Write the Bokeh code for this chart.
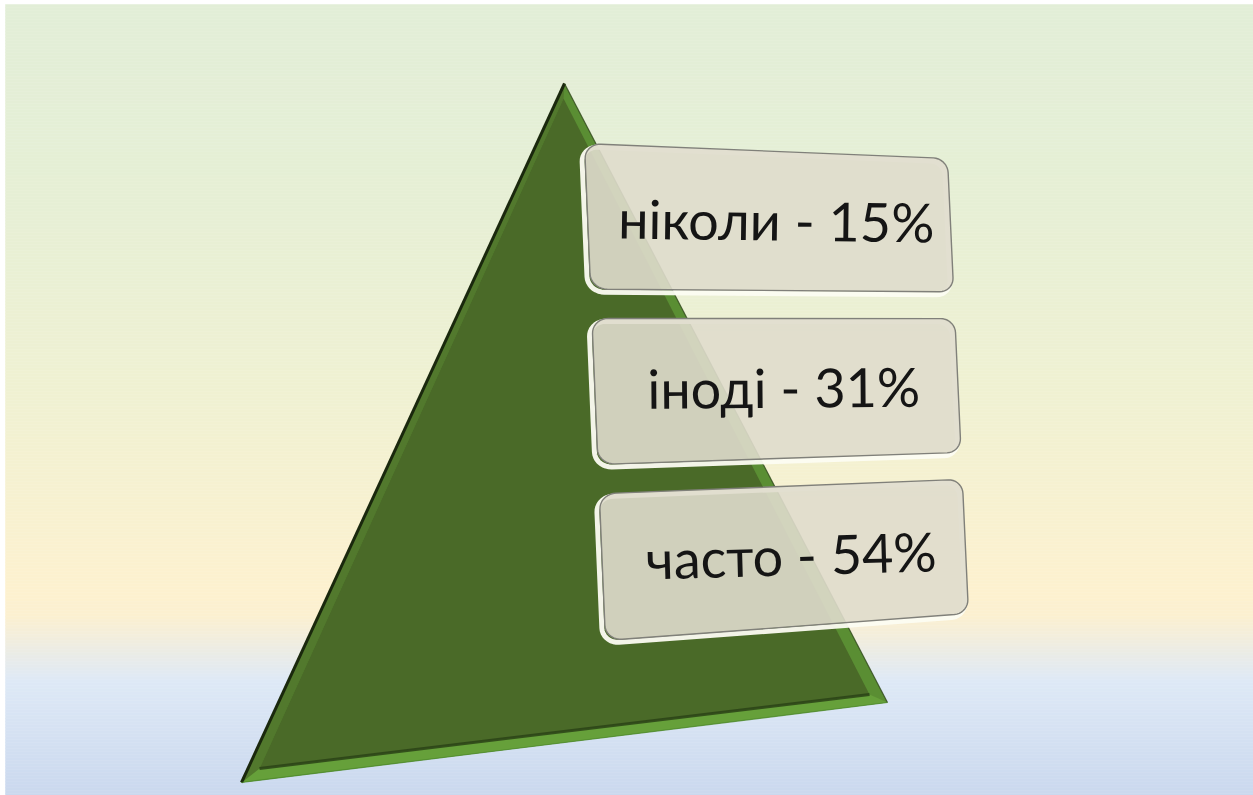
import numpy as np
from bokeh.plotting import figure
from bokeh.models import Range1d, ColumnDataSource
from bokeh.core.properties import value
from bokeh.embed import file_html
from bokeh.resources import INLINE

# ---------------- data ----------------
categories = ["ніколи", "іноді", "часто"]
shares = [15, 31, 54]

# ---------------- layout / style (page pixel coordinates) ----------------
W, H = 1253, 795
BG_X0, BG_Y0 = 5, 4

bg_stops = [(4, (226, 238, 215)), (200, (230, 239, 213)), (400, (240, 241, 210)),
            (590, (253, 241, 207)), (615, (252, 240, 208)), (650, (236, 236, 228)),
            (680, (222, 233, 246)), (795, (202, 216, 238))]

tri_outer = dict(apex=(564, 83), right=(887, 702), left=(241, 782))
tri_face = dict(apex=(563, 98), right=(869, 694), left=(259, 768))

# corners of the column that holds the three labels (perspective frame)
col_frame = [(584, 143), (947, 158), (968, 613), (605, 640)]  # TL, TR, BR, BL
box_h = 0.294
gap = (1 - 3 * box_h) / 2
text_dx, text_dy = -8, -1

p = figure(width=W, height=H, output_backend="svg", toolbar_location=None,
           x_range=Range1d(0, W), y_range=Range1d(H, 0), min_border=0)
p.axis.visible = False
p.grid.visible = False
p.outline_line_color = None
p.background_fill_color = "white"
p.border_fill_color = "white"

# ---------------- background gradient ----------------
ys = np.arange(BG_Y0, H, 3)
sy = [s[0] for s in bg_stops]
cols = []
for y in ys:
    rgb = [int(round(np.interp(y + 1.5, sy, [s[1][k] for s in bg_stops]))) for k in range(3)]
    cols.append("#%02x%02x%02x" % tuple(rgb))
p.quad(left=BG_X0, right=W, top=ys, bottom=np.minimum(ys + 3, H), fill_color=cols,
       line_color=cols, line_width=0.5)

# ---------------- pyramid ----------------
A, B, C = tri_outer["apex"], tri_outer["right"], tri_outer["left"]
A2, B2, C2 = tri_face["apex"], tri_face["right"], tri_face["left"]
p.patch([A[0], B[0], C[0]], [A[1], B[1], C[1]], fill_color="#5a8e33", line_color=None)
# bottom band
p.patch([C[0], B[0], B2[0], C2[0]], [C[1], B[1], B2[1], C2[1]], fill_color="#66a03a", line_color=None)
# left bevel
p.patch([A[0], A2[0], C2[0], C[0]], [A[1], A2[1], C2[1], C[1]], fill_color="#52792d", line_color=None)
# face
p.patch([A2[0], B2[0], C2[0]], [A2[1], B2[1], C2[1]], fill_color="#4a6a28", line_color=None)
# edges
p.line([A[0], C[0]], [A[1], C[1]], line_color="#1a280d", line_width=3)
p.line([C2[0], B2[0]], [C2[1], B2[1]], line_color="#2a4216", line_width=3, line_alpha=0.85)
p.line([A[0], B[0]], [A[1], B[1]], line_color="#2e4619", line_width=1.2, line_alpha=0.8)
p.line([C[0], B[0]], [C[1], B[1]], line_color="#4d8a2a", line_width=1.2, line_alpha=0.8)


# ---------------- perspective helpers ----------------
def homography(src, dst):
    M, b = [], []
    for (u, v), (x, y) in zip(src, dst):
        M.append([u, v, 1, 0, 0, 0, -u * x, -v * x]); b.append(x)
        M.append([0, 0, 0, u, v, 1, -u * y, -v * y]); b.append(y)
    h = np.linalg.solve(np.array(M, float), np.array(b, float))
    return np.append(h, 1).reshape(3, 3)


def project(Hm, u, v):
    u = np.asarray(u, float); v = np.asarray(v, float)
    d = Hm[2, 0] * u + Hm[2, 1] * v + Hm[2, 2]
    return ((Hm[0, 0] * u + Hm[0, 1] * v + Hm[0, 2]) / d,
            (Hm[1, 0] * u + Hm[1, 1] * v + Hm[1, 2]) / d)


Hm = homography([(0, 0), (1, 0), (1, 1), (0, 1)], col_frame)


def rounded(u0, u1, v0, v1, ru=0.042, rv=0.031, n=10):
    us, vs = [], []
    corners = [(u1 - ru, v0 + rv, -90, 0), (u1 - ru, v1 - rv, 0, 90),
               (u0 + ru, v1 - rv, 90, 180), (u0 + ru, v0 + rv, 180, 270)]
    for cu, cv, a0, a1 in corners:
        t = np.radians(np.linspace(a0, a1, n))
        us.extend(cu + ru * np.cos(t)); vs.extend(cv + rv * np.sin(t))
    return np.array(us), np.array(vs)


labels = [f"{c} - {s}%" for c, s in zip(categories, shares)]
tx, ty, ta = [], [], []
for i, lab in enumerate(labels):
    v0 = i * (box_h + gap)
    v1 = v0 + box_h
    us, vs = rounded(0, 1, v0, v1)
    bx, by = project(Hm, us, vs)
    # white glow offset towards lower-left
    p.patch(list(bx - 3), list(by + 3), fill_color=None, line_color="#fcfcf2", line_width=5, line_alpha=0.95)
    p.patch(list(bx), list(by), fill_color="#dfdccc", fill_alpha=0.9, line_color="#80807a", line_width=1.4)
    vc = (v0 + v1) / 2
    (xa, xb), (ya, yb) = project(Hm, [0.15, 0.85], [vc, vc])
    cx, cy = project(Hm, 0.52, vc)
    tx.append(float(cx) + text_dx); ty.append(float(cy) + text_dy)
    ta.append(float(np.arctan2(-(yb - ya), xb - xa) * 0.5))

src = ColumnDataSource(dict(x=tx, y=ty, t=labels, a=ta))
p.text(x="x", y="y", text="t", angle="a", source=src, text_font=value("Lato"),
       text_font_size="54px", text_color="#151515", text_align="center", text_baseline="alphabetic")

open("out.html", "w").write(file_html(p, INLINE))
